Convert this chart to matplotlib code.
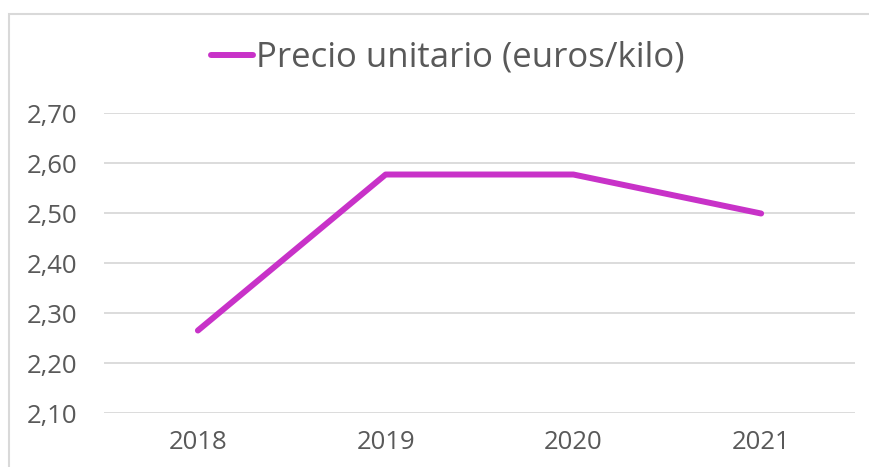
import matplotlib.pyplot as plt
from matplotlib.patches import Rectangle

plt.rcParams['font.family'] = ['Open Sans', 'DejaVu Sans']

# datos
years = ['2018', '2019', '2020', '2021']
precio = [2.265, 2.577, 2.577, 2.499]
y_ticks = [2.10, 2.20, 2.30, 2.40, 2.50, 2.60, 2.70]
y_labels = ['2,10', '2,20', '2,30', '2,40', '2,50', '2,60', '2,70']

color_linea = '#C832C8'
color_texto = '#595959'

fig = plt.figure(figsize=(8.69, 4.67), dpi=100)
ax = fig.add_axes([0.1197, 0.1156, 0.8642, 0.6424])

# marco del gráfico
fig.patches.append(Rectangle((9 / 869, -0.05), 1.0, 1 - 14 / 467 + 0.05,
                             transform=fig.transFigure, fill=False,
                             edgecolor='#d9d9d9', linewidth=1.5))

x = range(len(years))
ax.plot(x, precio, color=color_linea, linewidth=4.3,
        solid_capstyle='round', solid_joinstyle='round',
        label='Precio unitario (euros/kilo)')

ax.set_xlim(-0.5, len(years) - 0.5)
ax.set_ylim(2.10, 2.70)
ax.set_xticks(list(x))
ax.set_xticklabels(years)
ax.set_yticks(y_ticks)
ax.set_yticklabels(y_labels)
ax.tick_params(axis='both', length=0, labelsize=18.5, labelcolor=color_texto)
ax.tick_params(axis='y', pad=19)
ax.tick_params(axis='x', pad=12)

ax.grid(axis='y', color='#d9d9d9', linewidth=1.3)
ax.set_axisbelow(True)
for s in ax.spines.values():
    s.set_visible(False)

leg = fig.legend(loc='center', bbox_to_anchor=(448 / 869, 1 - 58 / 467),
                 frameon=False, fontsize=25, handlelength=1.2,
                 handletextpad=0.1)
for t in leg.get_texts():
    t.set_color(color_texto)

fig.savefig('out.png', dpi=100)
